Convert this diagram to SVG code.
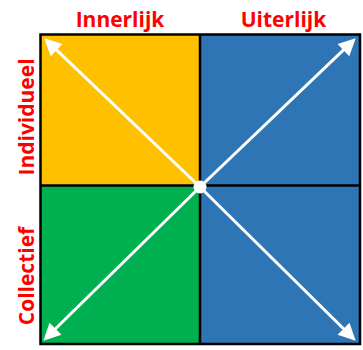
<svg xmlns="http://www.w3.org/2000/svg" width="363" height="350" viewBox="0 0 363 350">
<style>
.lbl{font-family:"Open Sans","Liberation Sans",sans-serif;font-weight:bold;font-size:21px;fill:#FF0000;text-anchor:middle}
.grid{stroke:#000;stroke-width:2.5;fill:none}
.arr{stroke:#fff;stroke-width:3;fill:none;marker-end:url(#ah)}
</style>
<defs>
<marker id="ah" viewBox="0 0 10 10" refX="6.5" refY="5" markerUnits="userSpaceOnUse" markerWidth="19" markerHeight="17" orient="auto">
<path d="M0,0 L10,5 L0,10 z" fill="#fff"/>
</marker>
</defs>
<rect width="363" height="350" fill="#fff"/>
<g id="q-innerlijk-individueel"><rect x="40.5" y="34.5" width="159.5" height="151" fill="#FFC000"/></g>
<g id="q-uiterlijk-individueel"><rect x="200" y="34.5" width="160" height="151" fill="#2E75B6"/></g>
<g id="q-innerlijk-collectief"><rect x="40.5" y="185.5" width="159.5" height="158.5" fill="#00B050"/></g>
<g id="q-uiterlijk-collectief"><rect x="200" y="185.5" width="160" height="158.5" fill="#2E75B6"/></g>
<g id="grid">
<rect class="grid" x="40.5" y="34.5" width="319.5" height="309.5"/>
<line class="grid" x1="200" y1="34.5" x2="200" y2="344" stroke-width="2"/>
<line class="grid" x1="40.5" y1="185.5" x2="360" y2="185.5" stroke-width="2"/>
</g>
<g id="connectors">
<line class="arr" x1="200" y1="187" x2="48.6" y2="42.4"/>
<line class="arr" x1="200" y1="187" x2="351.4" y2="42.4"/>
<line class="arr" x1="200" y1="187" x2="47.6" y2="336.5"/>
<line class="arr" x1="200" y1="187" x2="351.4" y2="336.5"/>
</g>
<g id="center"><circle cx="200" cy="187" r="6.5" fill="#fff"/></g>
<g id="label-innerlijk"><text class="lbl" x="120" y="27">Innerlijk</text></g>
<g id="label-uiterlijk"><text class="lbl" x="283.5" y="27">Uiterlijk</text></g>
<g id="label-individueel"><text class="lbl" transform="translate(34,117) rotate(-90)">Individueel</text></g>
<g id="label-collectief"><text class="lbl" transform="translate(34,276) rotate(-90)">Collectief</text></g>
</svg>
